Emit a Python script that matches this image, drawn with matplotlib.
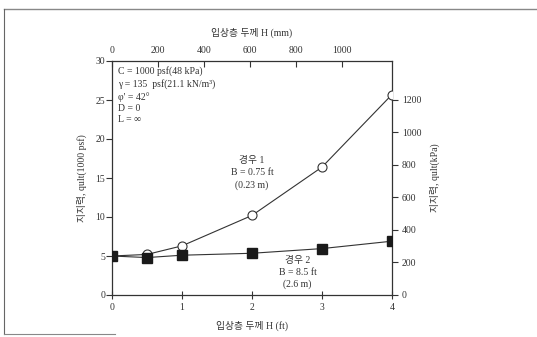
import matplotlib
matplotlib.use("Agg")
import matplotlib.pyplot as plt
from matplotlib.lines import Line2D

plt.rcParams['font.family'] = ['Liberation Serif', 'Noto Sans CJK KR', 'DejaVu Sans']
plt.rcParams['mathtext.fontset'] = 'stix'

# Data
H_ft = [0, 0.5, 1, 2, 3, 4]
case1_q = [5.0, 5.2, 6.3, 10.2, 16.4, 25.7]
case2_q = [5.0, 4.8, 5.1, 5.35, 5.95, 6.9]
x_ticks = [0, 1, 2, 3, 4]
y_ticks = [0, 5, 10, 15, 20, 25, 30]
kpa_ticks = [0, 200, 400, 600, 800, 1000, 1200]
mm_ticks = [0, 200, 400, 600, 800, 1000]
params = ["C = 1000 psf(48 kPa)", "γ = 135  psf(21.1 kN/m³)", "φ' = 42°", "D = 0", "L = ∞"]
case1_label = "경우 1\nB = 0.75 ft\n(0.23 m)"
case2_label = "경우 2\nB = 8.5 ft\n(2.6 m)"

c = '#333333'
fig = plt.figure(figsize=(5.37, 3.37), dpi=100)
ax = fig.add_axes([112/537, 1-295/337, 280/537, 234/337])

ax.plot(H_ft, case1_q, color=c, lw=0.8, marker='o', ms=6.5, mfc='white', mec=c, mew=0.8, zorder=3)
ax.plot(H_ft, case2_q, color=c, lw=0.8, marker='s', ms=7.5, mfc='#1a1a1a', mec='#1a1a1a', zorder=3)

ax.set_xlim(0, 4)
ax.set_ylim(0, 30)
ax.set_xticks(x_ticks)
ax.set_yticks(y_ticks)
ax.tick_params(axis='x', direction='inout', length=6, labelsize=7, colors=c, pad=3)
ax.tick_params(axis='y', direction='out', length=4, labelsize=7, colors=c, pad=1)
for s in ax.spines.values():
    s.set_color(c)
    s.set_linewidth(0.9)
ax.set_xlabel("입상층 두께 H (ft)", fontsize=7, color=c, labelpad=6)
ax.set_ylabel("지지력, qult(1000 psf)", fontsize=7, color=c, labelpad=6)

ax2 = ax.twinx()
ax2.set_ylim(0, 30 * 47.88)
ax2.set_yticks(kpa_ticks)
ax2.tick_params(axis='y', direction='out', length=4, labelsize=7, colors=c, pad=3)
ax2.set_ylabel("지지력, qult(kPa)", fontsize=7, color=c, labelpad=6)
for s in ax2.spines.values():
    s.set_visible(False)

ax3 = ax.twiny()
ax3.set_xlim(0, 4 * 304.8)
ax3.set_xticks(mm_ticks)
ax3.tick_params(axis='x', direction='in', length=4, labelsize=7, colors=c, pad=4)
ax3.set_xlabel("입상층 두께 H (mm)", fontsize=7, color=c, labelpad=8)
for s in ax3.spines.values():
    s.set_visible(False)

ax.text(0.08, 29.3, "\n".join(params), fontsize=7, color=c, va='top', ha='left', linespacing=1.35)
ax.text(2.0, 17.8, case1_label, fontsize=7, color=c, ha='center', va='top', linespacing=1.4)
ax.text(2.65, 5.0, case2_label, fontsize=7, color=c, ha='center', va='top', linespacing=1.4)

# outer scan frame
fig.add_artist(Line2D([4/537, 1], [1-9/337, 1-9/337], color='#888888', lw=1.0))
fig.add_artist(Line2D([4/537, 4/537], [1-9/337, 1-334/337], color='#666666', lw=0.8))
fig.add_artist(Line2D([4/537, 115/537], [1-334/337, 1-334/337], color='#888888', lw=0.8))

fig.savefig("out.png", dpi=100)
